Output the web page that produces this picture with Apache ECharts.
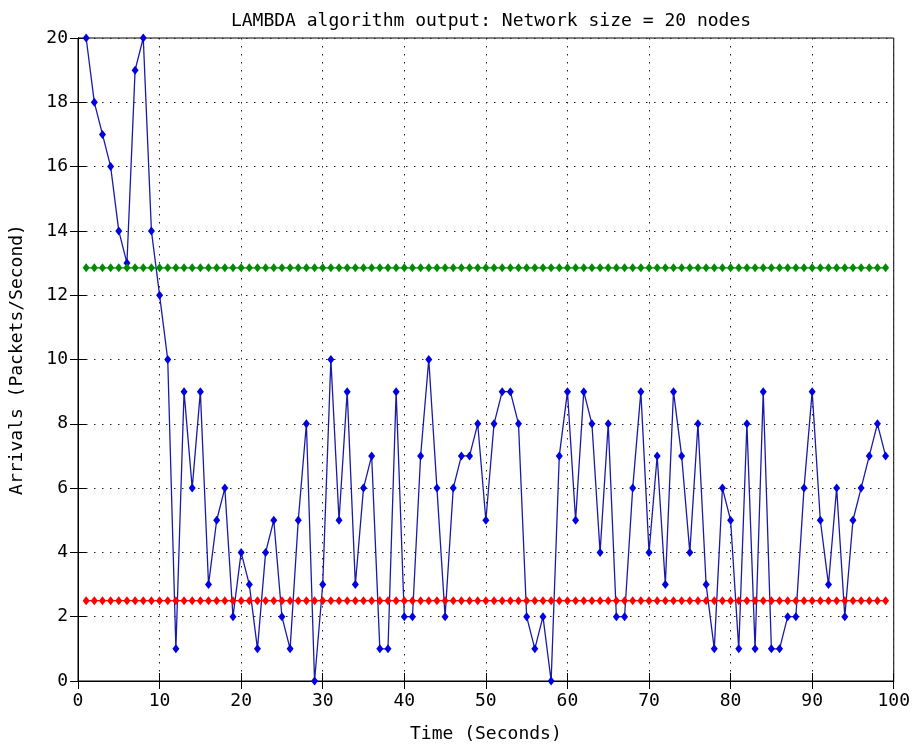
<!DOCTYPE html>
<html>
<head>
<meta charset="utf-8">
<script src="https://cdn.jsdelivr.net/npm/echarts@6/dist/echarts.min.js"></script>
<style>
html,body{margin:0;padding:0;background:#fff;}
#chart{width:913px;height:748px;}
</style>
</head>
<body>
<div id="chart"></div>
<script>
// Time axis (seconds)
const timeSeconds = [1,2,3,4,5,6,7,8,9,10,11,12,13,14,15,16,17,18,19,20,
  21,22,23,24,25,26,27,28,29,30,31,32,33,34,35,36,37,38,39,40,
  41,42,43,44,45,46,47,48,49,50,51,52,53,54,55,56,57,58,59,60,
  61,62,63,64,65,66,67,68,69,70,71,72,73,74,75,76,77,78,79,80,
  81,82,83,84,85,86,87,88,89,90,91,92,93,94,95,96,97,98,99];
// LAMBDA output (arrivals per second)
const lambdaArrivals = [20,18,17,16,14,13,19,20,14,12,10,1,9,6,9,3,5,6,2,4,
  3,1,4,5,2,1,5,8,0,3,10,5,9,3,6,7,1,1,9,2,
  2,7,10,6,2,6,7,7,8,5,8,9,9,8,2,1,2,0,7,9,
  5,9,8,4,8,2,2,6,9,4,7,3,9,7,4,8,3,1,6,5,
  1,8,1,9,1,1,2,2,6,9,5,3,6,2,5,6,7,8,7];
// Upper reference level (green)
const upperLevel = [12.85,12.85,12.85,12.85,12.85,12.85,12.85,12.85,12.85,12.85,12.85,12.85,12.85,12.85,12.85,12.85,12.85,12.85,12.85,12.85,
  12.85,12.85,12.85,12.85,12.85,12.85,12.85,12.85,12.85,12.85,12.85,12.85,12.85,12.85,12.85,12.85,12.85,12.85,12.85,12.85,
  12.85,12.85,12.85,12.85,12.85,12.85,12.85,12.85,12.85,12.85,12.85,12.85,12.85,12.85,12.85,12.85,12.85,12.85,12.85,12.85,
  12.85,12.85,12.85,12.85,12.85,12.85,12.85,12.85,12.85,12.85,12.85,12.85,12.85,12.85,12.85,12.85,12.85,12.85,12.85,12.85,
  12.85,12.85,12.85,12.85,12.85,12.85,12.85,12.85,12.85,12.85,12.85,12.85,12.85,12.85,12.85,12.85,12.85,12.85,12.85];
// Lower reference level (red)
const lowerLevel = [2.5,2.5,2.5,2.5,2.5,2.5,2.5,2.5,2.5,2.5,2.5,2.5,2.5,2.5,2.5,2.5,2.5,2.5,2.5,2.5,
  2.5,2.5,2.5,2.5,2.5,2.5,2.5,2.5,2.5,2.5,2.5,2.5,2.5,2.5,2.5,2.5,2.5,2.5,2.5,2.5,
  2.5,2.5,2.5,2.5,2.5,2.5,2.5,2.5,2.5,2.5,2.5,2.5,2.5,2.5,2.5,2.5,2.5,2.5,2.5,2.5,
  2.5,2.5,2.5,2.5,2.5,2.5,2.5,2.5,2.5,2.5,2.5,2.5,2.5,2.5,2.5,2.5,2.5,2.5,2.5,2.5,
  2.5,2.5,2.5,2.5,2.5,2.5,2.5,2.5,2.5,2.5,2.5,2.5,2.5,2.5,2.5,2.5,2.5,2.5,2.5];
const xTickLabels = ['0','10','20','30','40','50','60','70','80','90','100'];
const yTickLabels = ['0','2','4','6','8','10','12','14','16','18','20'];

const titleText = 'LAMBDA algorithm output: Network size = 20 nodes';
const xName = 'Time (Seconds)';
const yName = 'Arrivals (Packets/Second)';

const FONT = '"DejaVu Sans Mono", "Liberation Mono", monospace';

function pairs(xs, ys){ return xs.map((x,i)=>[x, ys[i]]); }

const chart = echarts.init(document.getElementById('chart'), null, {renderer:'canvas'});
const dotted = {color:'#222', width:1, type:[1.5,6.5]};
chart.setOption({
  animation:false,
  backgroundColor:'#fff',
  title:{text:titleText, left:486, textAlign:'center', top:7,
    textStyle:{fontFamily:FONT, fontSize:18, fontWeight:'normal', color:'#000'}},
  grid:{left:77, right:18, top:38, bottom:65, show:true, borderColor:'#000', borderWidth:1, backgroundColor:'#fff'},
  xAxis:[{
    type:'value', min:0, max:100, interval:10,
    name:xName, nameLocation:'middle', nameGap:44,
    nameTextStyle:{fontFamily:FONT, fontSize:18, color:'#000'},
    axisLine:{lineStyle:{color:'#000', width:1}},
    axisTick:{inside:true, length:8, lineStyle:{color:'#000'}},
    axisLabel:{fontFamily:FONT, fontSize:18, color:'#000', margin:11,
      formatter:(v)=>xTickLabels[Math.round(v/10)]},
    splitLine:{show:true, lineStyle:dotted}
  },{
    type:'value', min:0, max:100, interval:10, position:'top',
    axisLine:{lineStyle:{color:'#000', width:1}},
    axisTick:{inside:true, length:8, lineStyle:{color:'#000'}},
    axisLabel:{show:false}, splitLine:{show:false}
  }],
  yAxis:[{
    type:'value', min:0, max:20, interval:2,
    name:yName, nameLocation:'middle', nameGap:52, nameRotate:90,
    nameTextStyle:{fontFamily:FONT, fontSize:18, color:'#000'},
    axisLine:{show:true, lineStyle:{color:'#000', width:1}},
    axisTick:{show:true, inside:true, length:8, lineStyle:{color:'#000'}},
    axisLabel:{fontFamily:FONT, fontSize:18, color:'#000', margin:10,
      formatter:(v)=>yTickLabels[Math.round(v/2)]},
    splitLine:{show:true, lineStyle:dotted}
  },{
    type:'value', min:0, max:20, interval:2, position:'right',
    axisLine:{show:true, lineStyle:{color:'#000', width:1}},
    axisTick:{show:true, inside:true, length:8, lineStyle:{color:'#000'}},
    axisLabel:{show:false}, splitLine:{show:false}
  }],
  series:[{
    type:'line', xAxisIndex:0, yAxisIndex:0,
    data:pairs(timeSeconds, lambdaArrivals),
    symbol:'diamond', symbolSize:[7,9], showAllSymbol:true,
    lineStyle:{color:'#1a1aa8', width:1.3},
    itemStyle:{color:'#0000e0'},
    z:3
  },{
    type:'line', xAxisIndex:0, yAxisIndex:0,
    data:pairs(timeSeconds, upperLevel),
    symbol:'diamond', symbolSize:[7,9], showAllSymbol:true,
    lineStyle:{color:'#008000', width:1.3},
    itemStyle:{color:'#008c00'},
    z:4
  },{
    type:'line', xAxisIndex:0, yAxisIndex:0,
    data:pairs(timeSeconds, lowerLevel),
    symbol:'diamond', symbolSize:[7,9], showAllSymbol:true,
    lineStyle:{color:'#ff0000', width:1.3},
    itemStyle:{color:'#ff0000'},
    z:4
  }]
});
</script>
</body>
</html>
